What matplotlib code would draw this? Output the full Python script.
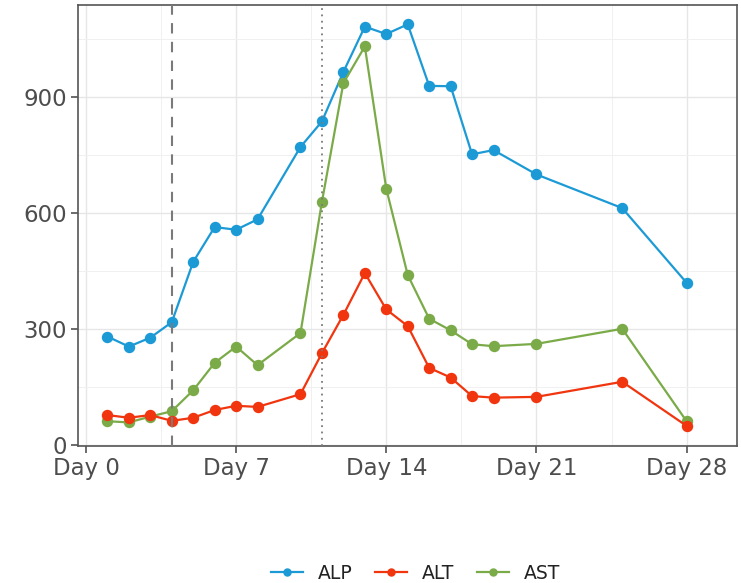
import matplotlib.pyplot as plt
from matplotlib.ticker import MultipleLocator

# 검사일 (입원 후 일수)
days = [1, 2, 3, 4, 5, 6, 7, 8, 10, 11, 12, 13, 14, 15, 16, 17, 18, 19, 21, 25, 28]
# 간기능 수치
alp = [280, 254, 277, 317, 473, 563, 556, 583, 770, 836, 964, 1081, 1062, 1087,
       928, 927, 751, 762, 699, 612, 419]
alt = [77, 70, 77, 62, 70, 90, 101, 98, 131, 237, 336, 444, 350, 307,
       199, 174, 126, 122, 124, 163, 49]
ast = [61, 58, 73, 87, 141, 212, 254, 206, 289, 628, 935, 1030, 662, 439,
       326, 296, 260, 255, 261, 300, 61]
x_ticks = [0, 7, 14, 21, 28]
x_labels = ['Day 0', 'Day 7', 'Day 14', 'Day 21', 'Day 28']
y_ticks = [0, 300, 600, 900]
# 투약 시작 / 중단 시점
event_dashed = 4
event_dotted = 11

fig = plt.figure(figsize=(7.41, 5.83), dpi=100)
ax = fig.add_axes([0.1053, 0.235, 0.8893, 0.7564])

c_alp, c_alt, c_ast = '#1c9ad6', '#f0350f', '#7bab48'
l1, = ax.plot(days, alp, color=c_alp, marker='o', markersize=7.2, linewidth=1.6, label='ALP', zorder=3)
l3, = ax.plot(days, ast, color=c_ast, marker='o', markersize=7.2, linewidth=1.6, label='AST', zorder=4)
l2, = ax.plot(days, alt, color=c_alt, marker='o', markersize=7.2, linewidth=1.6, label='ALT', zorder=5)

ax.axvline(event_dashed, color='#7a7a7a', linestyle=(0, (5, 4)), linewidth=1.5, zorder=6)
ax.axvline(event_dotted, color='#7a7a7a', linestyle=(0, (1, 2.5)), linewidth=1.3, zorder=6)

ax.set_xlim(-0.37, 30.35)
ax.set_ylim(-3, 1137)
ax.set_xticks(x_ticks)
ax.set_xticklabels(x_labels)
ax.set_yticks(y_ticks)
ax.xaxis.set_minor_locator(MultipleLocator(3.5))
ax.yaxis.set_minor_locator(MultipleLocator(150))

# theme_bw 비슷하게
ax.grid(which='major', color='#e6e6e6', linewidth=1.0)
ax.grid(which='minor', color='#f0f0f0', linewidth=0.7)
ax.set_axisbelow(True)
for s in ax.spines.values():
    s.set_color('#555555')
    s.set_linewidth(1.2)
ax.tick_params(which='major', length=5, width=1.1, color='#444444',
               labelsize=16.5, labelcolor='#4d4d4d', pad=3)
ax.tick_params(which='minor', length=0)

fig.legend(handles=[l1, l2, l3], labels=['ALP', 'ALT', 'AST'], loc='center',
           bbox_to_anchor=(0.561, 0.017), ncol=3, frameon=False, fontsize=13.5,
           handlelength=1.7, columnspacing=1.2, handletextpad=0.8, markerscale=0.7,
           labelcolor='#222222')

fig.savefig('out.png', dpi=100)
